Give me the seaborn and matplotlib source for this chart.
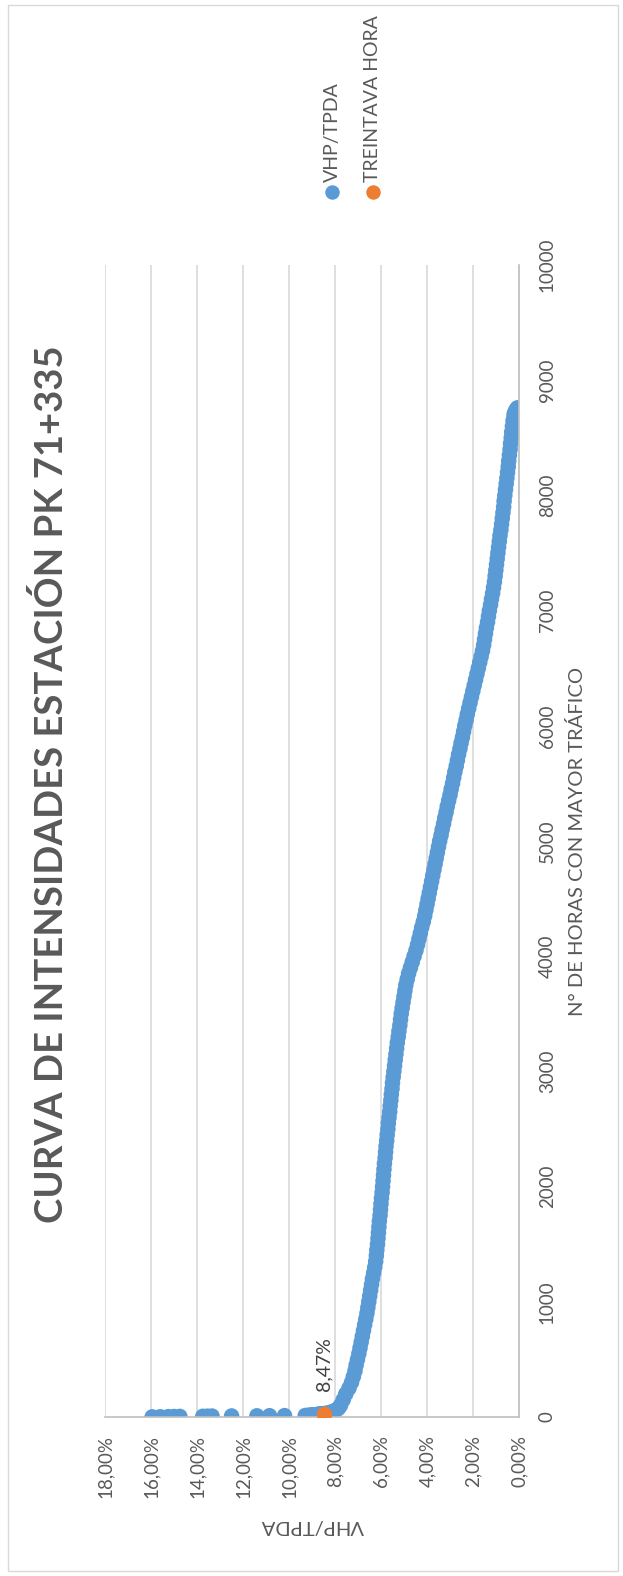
import numpy as np
import pandas as pd
import matplotlib
matplotlib.use("Agg")
import matplotlib.pyplot as plt
import seaborn as sns
from matplotlib.lines import Line2D
from matplotlib.patches import Rectangle
from matplotlib.ticker import FuncFormatter

# horas de mayor trafico (rango) y VHP/TPDA en %
horas_punta = [1, 2, 3, 4, 5, 6, 7, 8, 9, 10,
               11, 12, 13, 14, 15, 16, 17, 18, 19, 20,
               21, 22, 23, 24, 25, 26, 27, 28, 29, 30]
vhp_punta = [15.95, 15.60, 15.25, 15.00, 14.75, 13.75, 13.55, 13.35, 12.50, 11.40,
             10.85, 10.20, 9.30, 9.20, 9.10, 9.05, 9.00, 8.95, 8.90, 8.85,
             8.80, 8.75, 8.72, 8.68, 8.65, 8.60, 8.57, 8.54, 8.50, 8.47]

horas_curva = [35, 40, 50, 60, 75, 100,
               150, 200, 250, 300, 350, 400, 450, 500, 550, 600,
               650, 700, 750, 800, 850, 900, 950, 1000, 1050, 1100,
               1150, 1200, 1250, 1300, 1350, 1400, 1450, 1500, 1550, 1600,
               1650, 1700, 1750, 1800, 1850, 1900, 1950, 2000, 2050, 2100,
               2150, 2200, 2250, 2300, 2350, 2400, 2450, 2500, 2550, 2600,
               2650, 2700, 2750, 2800, 2850, 2900, 2950, 3000, 3050, 3100,
               3150, 3200, 3250, 3300, 3350, 3400, 3450, 3500, 3550, 3600,
               3650, 3700, 3750, 3800, 3850, 3900, 3950, 4000, 4050, 4100,
               4150, 4200, 4250, 4300, 4350, 4400, 4450, 4500, 4550, 4600,
               4650, 4700, 4750, 4800, 4850, 4900, 4950, 5000, 5050, 5100,
               5150, 5200, 5250, 5300, 5350, 5400, 5450, 5500, 5550, 5600,
               5650, 5700, 5750, 5800, 5850, 5900, 5950, 6000, 6050, 6100,
               6150, 6200, 6250, 6300, 6350, 6400, 6450, 6500, 6550, 6600,
               6650, 6700, 6750, 6800, 6850, 6900, 6950, 7000, 7050, 7100,
               7150, 7200, 7250, 7300, 7350, 7400, 7450, 7500, 7550, 7600,
               7650, 7700, 7750, 7800, 7850, 7900, 7950, 8000, 8050, 8100,
               8150, 8200, 8250, 8300, 8350, 8400, 8450, 8500, 8550, 8600,
               8650, 8700, 8720, 8740, 8750, 8760]
vhp_curva = [8.32, 8.22, 8.08, 7.96, 7.86, 7.77,
             7.65, 7.54, 7.40, 7.29, 7.21, 7.14, 7.09, 7.03, 6.97, 6.92,
             6.87, 6.82, 6.77, 6.72, 6.67, 6.62, 6.58, 6.54, 6.50, 6.46,
             6.42, 6.38, 6.33, 6.28, 6.24, 6.21, 6.19, 6.16, 6.14, 6.12,
             6.10, 6.08, 6.05, 6.03, 6.01, 5.99, 5.96, 5.94, 5.92, 5.90,
             5.88, 5.86, 5.83, 5.81, 5.79, 5.76, 5.74, 5.71, 5.69, 5.66,
             5.63, 5.61, 5.58, 5.56, 5.53, 5.51, 5.48, 5.45, 5.42, 5.39,
             5.36, 5.33, 5.30, 5.26, 5.23, 5.19, 5.16, 5.13, 5.09, 5.05,
             5.01, 4.97, 4.93, 4.87, 4.81, 4.73, 4.65, 4.57, 4.49, 4.42,
             4.36, 4.30, 4.24, 4.17, 4.11, 4.06, 4.01, 3.96, 3.91, 3.86,
             3.81, 3.76, 3.71, 3.66, 3.61, 3.56, 3.51, 3.46, 3.40, 3.35,
             3.29, 3.24, 3.18, 3.13, 3.07, 3.01, 2.96, 2.90, 2.85, 2.80,
             2.74, 2.69, 2.64, 2.58, 2.53, 2.47, 2.42, 2.37, 2.31, 2.26,
             2.20, 2.14, 2.08, 2.02, 1.96, 1.90, 1.84, 1.78, 1.72, 1.66,
             1.60, 1.55, 1.51, 1.47, 1.43, 1.38, 1.34, 1.30, 1.25, 1.21,
             1.16, 1.12, 1.08, 1.05, 1.02, 0.99, 0.96, 0.93, 0.90, 0.87,
             0.84, 0.80, 0.77, 0.74, 0.71, 0.68, 0.66, 0.63, 0.60, 0.57,
             0.54, 0.51, 0.48, 0.46, 0.43, 0.40, 0.38, 0.35, 0.33, 0.30,
             0.27, 0.23, 0.20, 0.15, 0.11, 0.08]

hora_30 = [30]
vhp_30 = [8.47]

ticks_vhp = [18, 16, 14, 12, 10, 8, 6, 4, 2, 0]
ticks_horas = [0, 1000, 2000, 3000, 4000, 5000, 6000, 7000, 8000, 9000, 10000]

sns.set_theme(style="white")
plt.rcParams["font.family"] = ["Lato", "DejaVu Sans"]

gris = "#595959"
azul = "#5B9BD5"
naranja = "#ED7D31"

df = pd.DataFrame({"hora": horas_punta + horas_curva, "vhp": vhp_punta + vhp_curva})

W, H = 623, 1576
fig = plt.figure(figsize=(W / 100, H / 100), dpi=100)
ax = fig.add_axes([105 / W, 1 - 1417 / H, 414.3 / W, 1152 / H])

sns.scatterplot(data=df, x="vhp", y="hora", color=azul, s=125, linewidth=0,
                edgecolor="none", ax=ax, legend=False, zorder=2)
ax.scatter(vhp_30, hora_30, color=naranja, s=125, linewidths=0, zorder=3)

ax.set_xlim(18, 0)
ax.set_ylim(0, 10000)
ax.set_xticks(ticks_vhp)
ax.xaxis.set_major_formatter(FuncFormatter(lambda v, p: f"{v:.2f}%".replace(".", ",")))
ax.yaxis.tick_right()
ax.set_yticks(ticks_horas)
ax.set_yticklabels([str(t) for t in ticks_horas], rotation=90, va="center")
ax.tick_params(axis="x", length=0, pad=13, labelrotation=90, labelsize=13.5, labelcolor=gris)
ax.tick_params(axis="y", length=0, pad=14, labelsize=13.5, labelcolor=gris)
ax.set_xlabel("")
ax.set_ylabel("")

for s in ["left", "top"]:
    ax.spines[s].set_visible(False)
for s in ["right", "bottom"]:
    ax.spines[s].set_color("#bfbfbf")
    ax.spines[s].set_linewidth(1.2)
ax.grid(axis="x", color="#d9d9d9", linewidth=1.2)
ax.grid(axis="y", visible=False)

ax.annotate("8,47%", (vhp_30[0], hora_30[0]), xytext=(0, 16), textcoords="offset points",
            rotation=90, ha="center", va="bottom", fontsize=14, color="#404040")

ax.text(0.5, -0.094, "VHP/TPDA", transform=ax.transAxes, rotation=180,
        ha="center", va="center", fontsize=14.5, color=gris)
ax.text(1.139, 0.5, "N° DE HORAS CON MAYOR TRÁFICO", transform=ax.transAxes,
        rotation=90, ha="center", va="center", fontsize=14.5, color=gris)

fig.text(51 / W, 1 - 784 / H, "CURVA DE INTENSIDADES ESTACIÓN PK 71+335", rotation=90,
         ha="center", va="center", fontsize=27.5, fontweight="bold", color=gris)

# leyenda
for xpx, etiqueta, c in [(332, "VHP/TPDA", azul), (373, "TREINTAVA HORA", naranja)]:
    fig.add_artist(Line2D([xpx / W], [1 - 192 / H], marker="o", ms=9.4, color=c,
                          linestyle="none", transform=fig.transFigure))
    fig.text(xpx / W, 1 - 182 / H, etiqueta, rotation=90, ha="center", va="bottom",
             fontsize=14, color=gris)

fig.add_artist(Rectangle((8 / W, 1 - 1571 / H), 610 / W, 1566 / H, transform=fig.transFigure,
                         fill=False, edgecolor="#d9d9d9", linewidth=1))

fig.savefig("out.png", dpi=100)
